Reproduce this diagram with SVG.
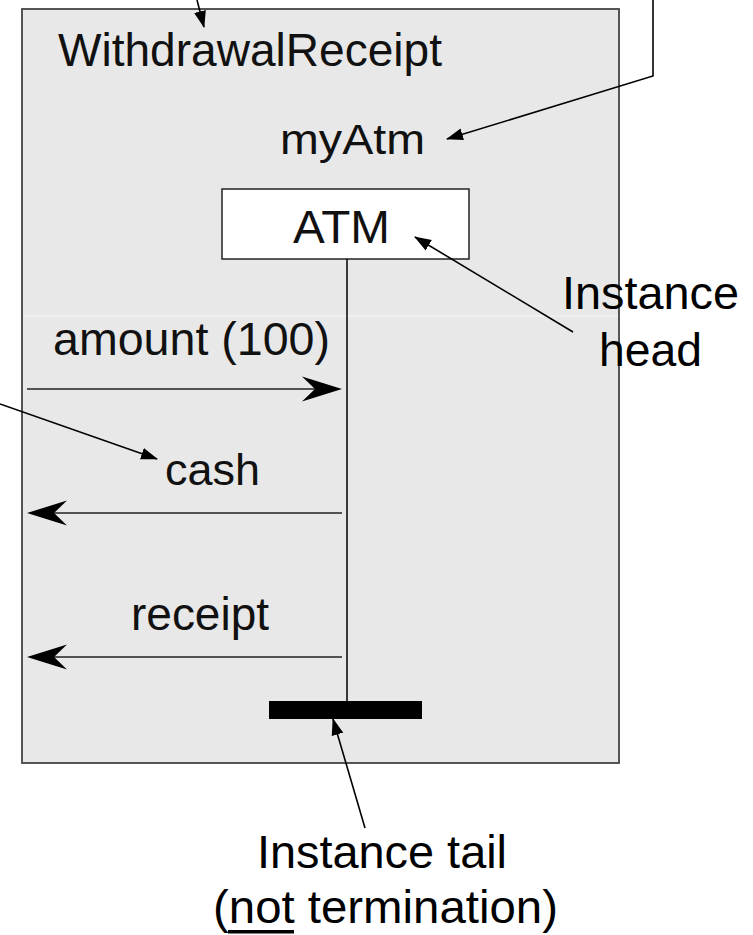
<svg xmlns="http://www.w3.org/2000/svg" width="753" height="935" viewBox="0 0 753 935">
<style>
.t{font-family:"Liberation Sans",Arial,sans-serif;fill:#111}
.lbl{font-family:"Liberation Sans",Arial,sans-serif;fill:#000}
.msg{stroke:#222;stroke-width:1.6;fill:none}
.ann{stroke:#000;stroke-width:1.6;fill:none}
.head{fill:#000}
</style>
<defs>
<marker id="tri" markerWidth="18" markerHeight="14" refX="16" refY="6" orient="auto" markerUnits="userSpaceOnUse" viewBox="0 0 18 12">
<path d="M0,0 L17,6 L0,12 Z" fill="#000"/>
</marker>
</defs>
<rect width="753" height="935" fill="#fff"/>
<g id="frame">
<rect x="22" y="9" width="597" height="754" fill="#e8e8e8" stroke="#444" stroke-width="1.8"/>
<line x1="23" y1="316" x2="618" y2="316" stroke="#f6f6f6" stroke-width="1"/>
<text class="t" x="58" y="66" font-size="46" textLength="384" lengthAdjust="spacingAndGlyphs">WithdrawalReceipt</text>
</g>
<g id="myAtm">
<text class="t" x="280" y="154" font-size="42" textLength="145" lengthAdjust="spacingAndGlyphs">myAtm</text>
<rect x="222" y="189" width="247" height="70" fill="#fff" stroke="#222" stroke-width="1.5"/>
<text class="t" x="293" y="243" font-size="46" textLength="97" lengthAdjust="spacingAndGlyphs">ATM</text>
</g>
<g id="lifeline">
<line x1="347" y1="259" x2="347" y2="701" stroke="#000" stroke-width="1.5"/>
<rect x="269" y="701" width="153" height="18" fill="#000"/>
</g>
<g id="messages">
<text class="t" x="53" y="355" font-size="46" textLength="277" lengthAdjust="spacingAndGlyphs">amount (100)</text>
<text class="t" x="165" y="485" font-size="45" textLength="95" lengthAdjust="spacingAndGlyphs">cash</text>
<text class="t" x="131" y="630" font-size="46" textLength="138" lengthAdjust="spacingAndGlyphs">receipt</text>
</g>
<g id="connectors">
<line class="msg" x1="27" y1="389" x2="320" y2="389"/>
<path class="head" d="M342,389 L302,376.5 L315,389 L302,401.5 Z"/>
<line class="msg" x1="342" y1="513" x2="50" y2="513"/>
<path class="head" d="M27,513 L67,500.5 L54,513 L67,525.5 Z"/>
<line class="msg" x1="342" y1="657" x2="50" y2="657"/>
<path class="head" d="M27,657 L67,644.5 L54,657 L67,669.5 Z"/>
<line class="ann" x1="197" y1="0" x2="204" y2="27" marker-end="url(#tri)"/>
<polyline class="ann" points="653,0 653,76 447,139" marker-end="url(#tri)"/>
<line class="ann" x1="573" y1="332" x2="415" y2="237" stroke-width="1.4" marker-end="url(#tri)"/>
<line class="ann" x1="0" y1="404" x2="157" y2="459" marker-end="url(#tri)"/>
<line class="ann" x1="365" y1="828" x2="333" y2="719" stroke-width="1.4" marker-end="url(#tri)"/>
</g>
<g id="instance-head-label">
<text class="lbl" x="562" y="309" font-size="47" textLength="177" lengthAdjust="spacingAndGlyphs">Instance</text>
<text class="lbl" x="599" y="366" font-size="47" textLength="103" lengthAdjust="spacingAndGlyphs">head</text>
</g>
<g id="instance-tail-label">
<text class="lbl" x="257" y="868" font-size="47" textLength="250" lengthAdjust="spacingAndGlyphs">Instance tail</text>
<text class="lbl" x="213" y="923" font-size="47" textLength="345" lengthAdjust="spacingAndGlyphs">(not termination)</text>
<rect x="228" y="930" width="66" height="3.5" fill="#000"/>
</g>
</svg>
